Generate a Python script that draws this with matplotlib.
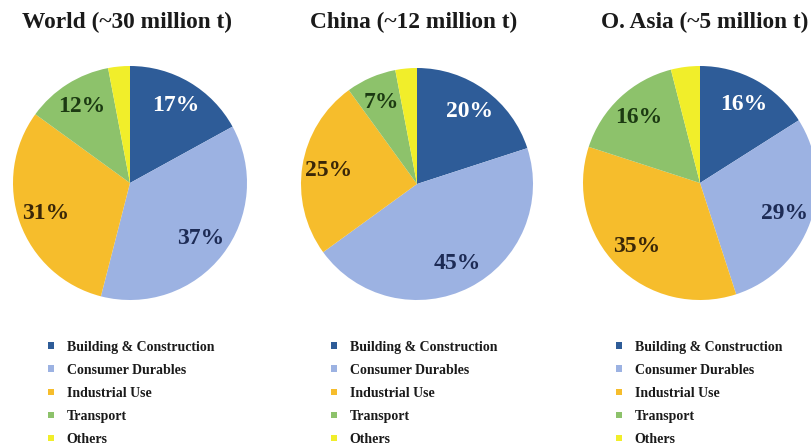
import matplotlib
matplotlib.use("Agg")
import matplotlib.pyplot as plt

# Aluminium end-use shares by region (%)
categories = ["Building & Construction", "Consumer Durables", "Industrial Use",
              "Transport", "Others"]
regions = ["World (~30 million t)", "China (~12 million t)", "O. Asia (~5 million t)"]
world_share = [17, 37, 31, 12, 3]
china_share = [20, 45, 25, 7, 3]
oasia_share = [16, 29, 35, 16, 4]
shares = [world_share, china_share, oasia_share]

colors = ["#2E5C98", "#9CB2E2", "#F6BD2C", "#8DC26B", "#F1EE2A"]
label_colors = ["white", "#1D2B55", "#3A2708", "#1C3A12", "black"]

W, H = 812, 448
fig = plt.figure(figsize=(W / 100, H / 100), dpi=100)
fig.patch.set_facecolor("white")

serif = "Liberation Serif"

# pie centre (x, y from top) and radius in pixels
pie_boxes = [(130, 183, 117), (417, 184, 116), (700, 183, 117)]
title_x = [127, 414, 705]
legend_x = [48, 331, 616]

for share, name, (cx, cy, r), tx, lx in zip(shares, regions, pie_boxes, title_x, legend_x):
    ax = fig.add_axes([(cx - r) / W, (H - cy - r) / H, 2 * r / W, 2 * r / H])
    wedges, texts, autotexts = ax.pie(
        share, colors=colors, startangle=90, counterclock=False,
        autopct=lambda p: f"{p:.0f}%" if p >= 5 else "",
        pctdistance=0.77, radius=1.0,
        wedgeprops=dict(linewidth=0),
        textprops=dict(fontfamily=serif, fontweight="bold", fontsize=17),
    )
    for t, c in zip(autotexts, label_colors):
        t.set_color(c)
    ax.set_xlim(-1, 1)
    ax.set_ylim(-1, 1)
    ax.set_aspect("auto")
    for w in wedges:
        w.set_clip_on(False)

    fig.text(tx / W, 1 - 22 / H, name, ha="center", va="center",
             fontfamily=serif, fontweight="bold", fontsize=16.8, color="#1a1a1a")

    leg = fig.legend(
        wedges, categories, loc="upper left",
        bbox_to_anchor=(lx / W, 1 - 340.5 / H),
        frameon=False, prop=dict(family=serif, weight="bold", size=10),
        handlelength=0.45, handleheight=0.35, handletextpad=0.9,
        labelspacing=0.73, borderpad=0, borderaxespad=0,
    )
    for txt in leg.get_texts():
        txt.set_color("#1a1a1a")

fig.savefig("out.png", dpi=100, facecolor="white")
